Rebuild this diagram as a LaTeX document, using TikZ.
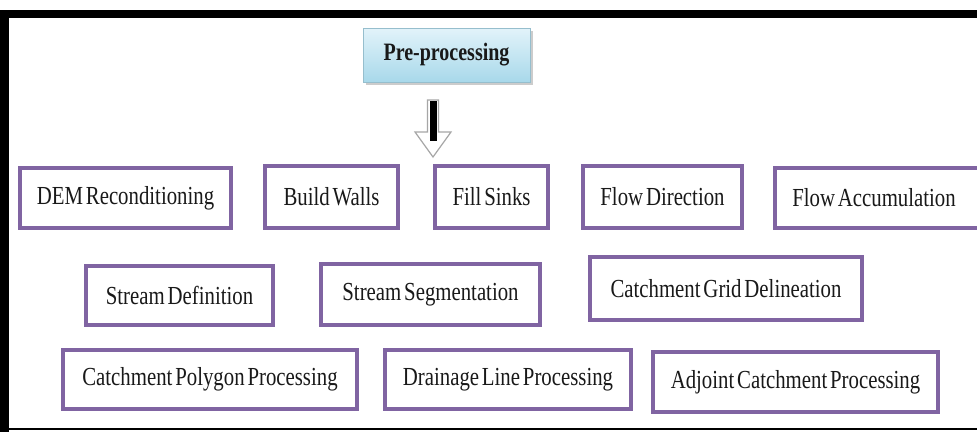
\documentclass[tikz,border=0pt]{standalone}
\usepackage{fontspec}
\usetikzlibrary{calc}
\setmainfont{Liberation Serif}
\newfontfamily\stepfont[FakeStretch=0.8,WordSpace=0.55]{Liberation Serif}
\definecolor{stepborder}{RGB}{128,100,162}
\definecolor{pretop}{RGB}{226,243,250}
\definecolor{prebot}{RGB}{168,216,234}
\definecolor{preedge}{RGB}{150,190,205}
\begin{document}
\begin{tikzpicture}[x=1pt,y=-1pt,
  stepbox/.style={draw=stepborder,line width=4.5pt,fill=white,inner sep=0pt,
    font=\stepfont\fontsize{26}{28}\selectfont,text=black!90},
  prebox/.style={draw=preedge,line width=0.8pt,top color=pretop,bottom color=prebot,
    inner sep=0pt,font=\stepfont\bfseries\fontsize{25}{27}\selectfont,text=black!90}]
\useasboundingbox (0,0) rectangle (977,432);
\fill[white] (0,0) rectangle (977,432);
% frame
\fill[black] (0,10) rectangle (977,18);
\fill[black] (0,10) rectangle (9,432);
\draw[black,line width=1.5pt] (0,429) -- (977,429);
% title box with a soft shadow
\fill[black!20] (366,31) rectangle (533,85);
\node[prebox,minimum width=167pt,minimum height=54pt] (pre) at (446.5,55) {Pre-processing};
% block arrow below the title
\coordinate (arr) at (433,100);
\filldraw[fill=white,draw=black!35,line width=1.2pt]
  ($(arr)+(-5.5,0)$) -- ($(arr)+(5.5,0)$) -- ($(arr)+(5.5,32)$) -- ($(arr)+(18,32)$)
  -- ($(arr)+(0,57)$) -- ($(arr)+(-18,32)$) -- ($(arr)+(-5.5,32)$) -- cycle;
\fill[black] ($(arr)+(-3.5,1)$) rectangle ($(arr)+(3.5,41)$);
% first row
\node[stepbox,minimum width=211pt,minimum height=60pt] (dem) at (125.5,198) {DEM Reconditioning};
\node[stepbox,minimum width=133pt,minimum height=62pt] (walls) at (331.5,197) {Build Walls};
\node[stepbox,minimum width=113pt,minimum height=62pt] (sinks) at (491.5,197) {Fill Sinks};
\node[stepbox,minimum width=159pt,minimum height=62pt] (fdir) at (662.5,197) {Flow Direction};
\node[stepbox,minimum width=212pt,minimum height=60pt] (facc) at (881,198) {Flow Accumulation\hspace*{14pt}};
% second row
\node[stepbox,minimum width=187pt,minimum height=59pt] (sdef) at (179.5,295.5) {Stream Definition};
\node[stepbox,minimum width=219pt,minimum height=61pt] (sseg) at (430.5,294.5) {Stream Segmentation};
\node[stepbox,minimum width=272pt,minimum height=63pt] (cgrid) at (726,288.5) {Catchment Grid Delineation};
% third row
\node[stepbox,minimum width=294pt,minimum height=59pt] (cpoly) at (210,379.5) {Catchment Polygon Processing};
\node[stepbox,minimum width=246pt,minimum height=59pt] (dline) at (508,379.5) {Drainage Line Processing};
\node[stepbox,minimum width=285pt,minimum height=60pt] (adj) at (795.5,382) {Adjoint Catchment Processing};
\end{tikzpicture}
\end{document}
